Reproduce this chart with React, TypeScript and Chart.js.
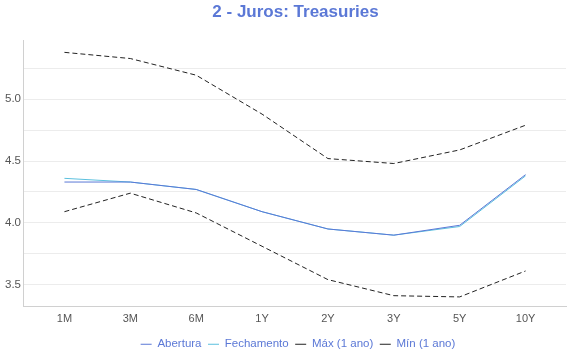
import React, { useEffect, useRef } from "react";
import { Chart, registerables } from "chart.js";

Chart.register(...registerables);

const categories = ["1M", "3M", "6M", "1Y", "2Y", "3Y", "5Y", "10Y"];
const abertura = [4.33, 4.33, 4.27, 4.09, 3.95, 3.9, 3.98, 4.39];
const fechamento = [4.36, 4.33, 4.27, 4.09, 3.95, 3.9, 3.97, 4.38];
const maximo = [5.38, 5.33, 5.195, 4.88, 4.52, 4.48, 4.59, 4.79];
const minimo = [4.09, 4.24, 4.08, 3.81, 3.54, 3.41, 3.4, 3.61];
const yMin = 3.32;
const yMax = 5.48;

const BLUE = "#5b78d6";
const CYAN = "#5bc0de";
const FONT = "'Liberation Sans', Arial, sans-serif";

const shiftPlugin = {
  id: "shiftBlocks",
  afterLayout(chart: any) {
    if (chart.titleBlock) chart.titleBlock.left += 23;
    if (chart.legend) chart.legend.left += 28;
  },
};

export default function App() {
  const ref = useRef<HTMLCanvasElement | null>(null);
  useEffect(() => {
    document.body.style.margin = "0";
    if (!ref.current) return;
    const toPts = (arr: number[]) => arr.map((v, i) => ({ x: i, y: v }));
    const chart = new Chart(ref.current, {
      type: "line",
      data: {
        datasets: [
          { label: "Abertura", data: toPts(abertura), borderColor: BLUE, backgroundColor: BLUE, borderWidth: 1, pointRadius: 0, tension: 0 },
          { label: "Fechamento", data: toPts(fechamento), borderColor: CYAN, backgroundColor: CYAN, borderWidth: 1, pointRadius: 0, tension: 0 },
          { label: "Máx (1 ano)", data: toPts(maximo), borderColor: "#222", backgroundColor: "#222", borderWidth: 1, borderDash: [5, 3], pointRadius: 0, tension: 0 },
          { label: "Mín (1 ano)", data: toPts(minimo), borderColor: "#222", backgroundColor: "#222", borderWidth: 1, borderDash: [5, 3], pointRadius: 0, tension: 0 },
        ],
      },
      options: {
        animation: false,
        responsive: false,
        maintainAspectRatio: false,
        layout: { padding: { left: 2, right: 4, top: 0, bottom: 0 } },
        plugins: {
          title: {
            display: true,
            text: "2 - Juros: Treasuries",
            color: BLUE,
            font: { family: FONT, size: 17, weight: "bold" },
            padding: { top: 2, bottom: 17.6 },
          },
          legend: {
            position: "bottom",
            labels: {
              usePointStyle: true,
              pointStyle: "line",
              pointStyleWidth: 11,
              boxWidth: 11,
              color: BLUE,
              font: { family: FONT, size: 11.5 },
              padding: 6.5,
            },
          },
          tooltip: { enabled: false },
        },
        scales: {
          x: {
            type: "linear",
            min: -0.614,
            max: 7.614,
            grid: { display: false, drawTicks: false },
            border: { display: true, color: "#d0d0d0" },
            afterBuildTicks: (axis: any) => {
              axis.ticks = categories.map((_, i) => ({ value: i }));
            },
            ticks: {
              color: "#555",
              padding: 6,
              font: { family: FONT, size: 11 },
              callback: (v: any) => categories[Number(v)] ?? "",
              maxRotation: 0,
            },
          },
          y: {
            min: yMin,
            max: yMax,
            grid: { color: "#ececec", drawTicks: false },
            border: { display: true, color: "#d0d0d0" },
            afterBuildTicks: (axis: any) => {
              const t = [];
              for (let v = 3.5; v <= 5.25 + 1e-9; v += 0.25) t.push({ value: Math.round(v * 100) / 100 });
              axis.ticks = t;
            },
            ticks: {
              color: "#555",
              padding: 3,
              font: { family: FONT, size: 11.5 },
              callback: (v: any) => (Math.abs(v * 2 - Math.round(v * 2)) < 1e-6 ? Number(v).toFixed(1) : ""),
            },
          },
        },
      },
      plugins: [shiftPlugin],
    } as any);
    return () => chart.destroy();
  }, []);
  return (
    <div style={{ width: 570, height: 360 }}>
      <canvas ref={ref} width={570} height={360} style={{ display: "block" }} />
    </div>
  );
}
